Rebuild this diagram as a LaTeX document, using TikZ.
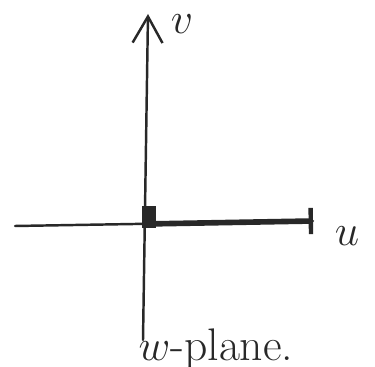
\documentclass[tikz,border=0pt]{standalone}
\usepackage{amsmath}
\usepackage{xcolor}
\usepackage{tikz}
\usetikzlibrary{
	arrows.meta,
	positioning
}
\definecolor{Ink}{RGB}{40,40,40}

\begin{document}
\begin{tikzpicture}[x=0.02cm, y=-0.02cm, line cap=round, line join=round,
		hand/.style={font=\fontsize{26}{30}\selectfont, text=Ink}]
		\useasboundingbox (0,0) rectangle (375,367);
		
		\coordinate (O) at (145,224);
		\coordinate (uL) at (15,226);
		\coordinate (uR) at (313,221);
		\coordinate (vB) at (143,340);
		\coordinate (vT) at (148,14);
		
		% u- und v-Achse
		\draw[Ink, line width=1.4pt] (uL) -- (uR);
		\draw[Ink, line width=1.4pt, -{Straight Barb[length=15pt, width=17pt, line width=1.4pt]}] (vB) -- (vT);
		% Bildstrecke auf der positiven u-Achse
		\draw[Ink, line width=3.2pt, -{Bar[width=15pt, line width=2.5pt]}] (O) -- (uR);
		\fill[Ink] (O) ++(-3,-18) rectangle ++(14,22);
		
		\node[hand] (v) at (182,24) {$v$};
		\node[hand] (u) at (347,236) {$u$};
		\node[hand] (wp) at (216,349) {$w$-plane.};
	\end{tikzpicture}
\end{document}
